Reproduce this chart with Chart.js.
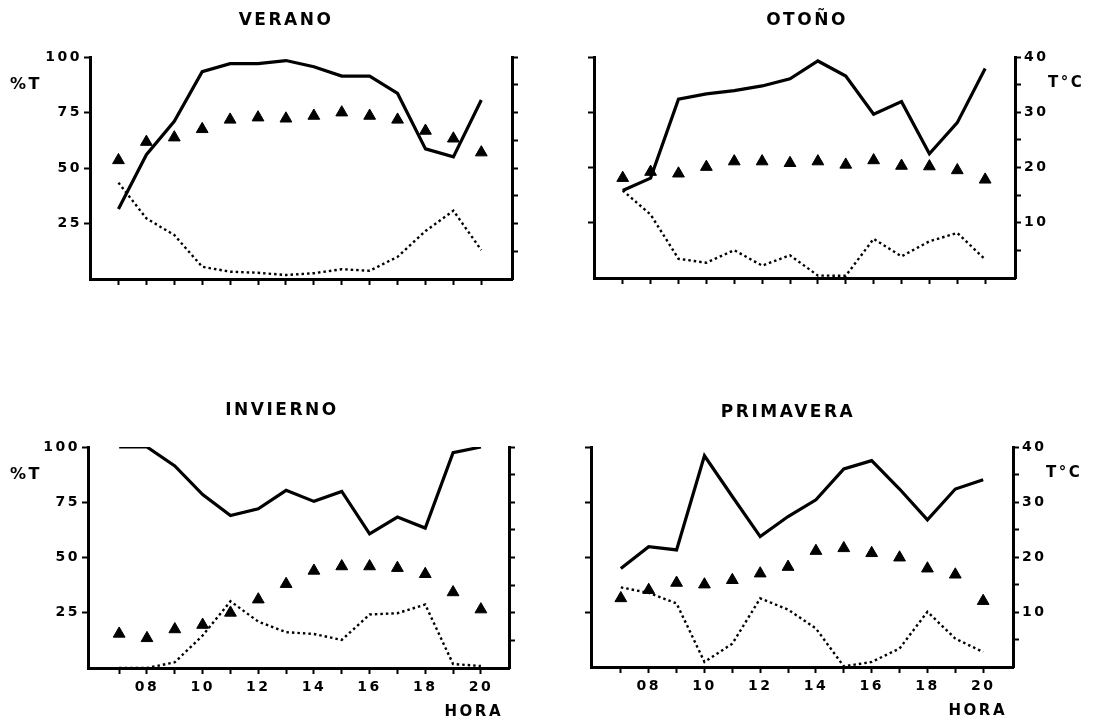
<!DOCTYPE html>
<html>
<head>
<meta charset="utf-8">
<script src="https://cdn.jsdelivr.net/npm/chart.js@4/dist/chart.umd.min.js"></script>
<style>
  html, body { margin: 0; padding: 0; background: #fff; }
  #wrap { position: relative; width: 1095px; height: 724px; background: #fff; overflow: hidden; }
  #wrap canvas { position: absolute; }
</style>
</head>
<body>
<div id="wrap">
  <canvas id="verano"></canvas>
  <canvas id="otono"></canvas>
  <canvas id="invierno"></canvas>
  <canvas id="primavera"></canvas>
</div>
<script>
// Hours of observation and axis tick labels
const hours = [7, 8, 9, 10, 11, 12, 13, 14, 15, 16, 17, 18, 19, 20];
const hourLabels = ['07', '08', '09', '10', '11', '12', '13', '14', '15', '16', '17', '18', '19', '20'];
const pctTicks = [25, 50, 75, 100];
const tempTicks = [10, 20, 30, 40];
const tempMinorTicks = [5, 10, 15, 20, 25, 30, 35, 40];

// VERANO
const veranoSolid  = [31.5, 56, 71, 93.4, 97, 97, 98.4, 95.6, 91.4, 91.4, 83.6, 58.6, 55, 80.6];
const veranoDotted = [43.4, 27.3, 19.8, 5.5, 3.3, 2.8, 1.8, 2.6, 4.4, 3.7, 10, 21.6, 30.8, 13];
const veranoTemp   = [21.4, 24.7, 25.5, 27.0, 28.7, 29.1, 28.9, 29.4, 30.0, 29.4, 28.7, 26.7, 25.3, 22.8];

// OTOÑO
const otonoSolid  = [39.6, 45.2, 80.9, 83.3, 84.8, 86.9, 90.1, 98.2, 91.4, 74.1, 79.8, 56.2, 70.3, 94.8];
const otonoDotted = [39.6, 28.7, 8.7, 6.9, 12.6, 5.6, 10.3, 1.1, 1.0, 17.7, 9.8, 16.6, 20.4, 8.4];
const otonoTemp   = [18.1, 19.2, 18.9, 20.1, 21.1, 21.1, 20.8, 21.1, 20.5, 21.3, 20.3, 20.2, 19.5, 17.8];

// INVIERNO
const inviernoSolid  = [100, 100, 91.4, 78.5, 69, 72, 80.4, 75.4, 79.9, 60.7, 68.3, 63.3, 97.4, 100];
const inviernoDotted = [0, 0, 2.6, 14.7, 30.2, 21, 16.2, 15.4, 12.7, 24.2, 24.8, 28.7, 1.8, 0.9];
const inviernoTemp   = [6.2, 5.4, 7.0, 7.8, 10.0, 12.4, 15.2, 17.6, 18.4, 18.4, 18.1, 17.0, 13.7, 10.6];

// PRIMAVERA
const primaveraSolid  = [44.8, 54.7, 53.2, 96.0, 77.5, 59.3, 68.4, 76.0, 90.0, 93.8, 80.9, 66.9, 80.9, 85.1];
const primaveraDotted = [36.2, 33.7, 28.9, 2.3, 10.6, 31.2, 26.1, 17.5, 0.3, 2.3, 8.4, 25.1, 12.9, 6.8];
const primaveraTemp   = [12.5, 14.0, 15.3, 15.0, 15.8, 17.0, 18.2, 21.1, 21.6, 20.7, 19.9, 17.9, 16.8, 12.0];

const FONT_FAMILY = "'DejaVu Sans', 'Liberation Sans', sans-serif";
Chart.defaults.font.family = FONT_FAMILY;
Chart.defaults.font.weight = 'bold';
Chart.defaults.color = '#000';

// Wide lettering for all chart text
const spacing = {
  id: 'spacing',
  beforeDraw(chart) { chart.ctx.letterSpacing = '2.5px'; }
};

// Unit labels: %T beside the left axis, T°C beside the right axis, HORA under the hours
const unitLabels = {
  id: 'unitLabels',
  afterDraw(chart, args, o) {
    const ctx = chart.ctx, a = chart.chartArea;
    ctx.save();
    ctx.fillStyle = '#000';
    ctx.letterSpacing = '2.5px';
    ctx.textBaseline = 'middle';
    if (o.left) {
      ctx.font = 'bold 16px ' + FONT_FAMILY;
      ctx.textAlign = 'left';
      ctx.fillText(o.left, a.left - o.leftGap, chart.scales.y.getPixelForValue(87.5));
    }
    if (o.right) {
      ctx.font = 'bold 15px ' + FONT_FAMILY;
      ctx.textAlign = 'left';
      ctx.fillText(o.right, a.right + 33, chart.scales.y1.getPixelForValue(35.3));
    }
    if (o.bottom) {
      ctx.font = 'bold 15px ' + FONT_FAMILY;
      ctx.textAlign = 'right';
      ctx.fillText(o.bottom, a.right - 6, a.bottom + 44);
    }
    ctx.restore();
  }
};

function pts(values) {
  return hours.map((h, i) => ({ x: h, y: values[i] }));
}

function axisLook() {
  return {
    border: { display: true, color: '#000', width: 3 },
    grid: {
      display: true, drawOnChartArea: false, drawTicks: true,
      tickLength: 6, tickWidth: 2, tickColor: '#000', color: '#000'
    }
  };
}

// Places the canvas so the plot frame lands at (areaL..areaR, areaT..areaB)
// and the title is centred on titleX; extL/extR are the outermost text edges.
function panel(id, title, solid, dotted, temp, g) {
  const half = Math.max(g.titleX - g.extL, g.extR - g.titleX);
  const W = Math.round(2 * half);
  const x0 = Math.round(g.titleX - W / 2);
  const leftW = g.areaL - x0;
  const rightW = x0 + W - g.areaR;
  const H = g.canvasH;
  const bottomH = g.canvasTop + H - g.areaB;
  const titleH = g.areaT - g.canvasTop;

  const cv = document.getElementById(id);
  cv.width = W; cv.height = H;
  cv.style.left = x0 + 'px';
  cv.style.top = g.canvasTop + 'px';

  return new Chart(cv, {
    type: 'line',
    data: {
      datasets: [
        {
          data: pts(solid), yAxisID: 'y',
          borderColor: '#000', borderWidth: 3.2, pointRadius: 0, tension: 0, fill: false
        },
        {
          data: pts(dotted), yAxisID: 'y',
          borderColor: '#000', borderWidth: 2.4, borderDash: [2.5, 3],
          pointRadius: 0, tension: 0, fill: false
        },
        {
          data: pts(temp), yAxisID: 'y1', showLine: false,
          pointStyle: 'triangle', pointRadius: 6.8, pointHoverRadius: 6.8,
          backgroundColor: '#000', borderColor: '#000', borderWidth: 1
        }
      ]
    },
    options: {
      responsive: false,
      animation: false,
      events: [],
      layout: { padding: 0 },
      plugins: {
        legend: { display: false },
        tooltip: { enabled: false },
        title: {
          display: true, text: title, color: '#000',
          font: { size: 17, weight: 'bold' },
          padding: { top: g.titleTop, bottom: titleH - g.titleTop - 20.4 }
        },
        unitLabels: {
          left: g.showLeft ? '%T' : '', leftGap: g.areaL - 10,
          right: g.showRight ? 'T°C' : '',
          bottom: g.showHours ? 'HORA' : ''
        }
      },
      scales: {
        x: Object.assign(axisLook(), {
          type: 'linear', min: g.xMin, max: g.xMax,
          afterBuildTicks: s => { s.ticks = hours.map(v => ({ value: v })); },
          afterFit: s => { s.height = bottomH; },
          ticks: {
            autoSkip: false, maxRotation: 0, padding: 5,
            font: { size: 14, weight: 'bold' },
            callback: v => (g.showHours && v % 2 === 0) ? hourLabels[hours.indexOf(v)] : ''
          }
        }),
        y: Object.assign(axisLook(), {
          position: 'left', min: 0, max: 100,
          afterBuildTicks: s => { s.ticks = pctTicks.map(v => ({ value: v })); },
          afterFit: s => { s.width = leftW; },
          ticks: {
            autoSkip: false, padding: 2,
            font: { size: 14, weight: 'bold' },
            callback: v => g.showLeft ? String(v) : ''
          }
        }),
        y1: Object.assign(axisLook(), {
          position: 'right', min: 0, max: 40,
          afterBuildTicks: s => { s.ticks = tempMinorTicks.map(v => ({ value: v })); },
          afterFit: s => { s.width = rightW; },
          ticks: {
            autoSkip: false, padding: 3,
            font: { size: 14, weight: 'bold' },
            callback: v => (g.showRight && tempTicks.includes(v)) ? String(v) : ''
          }
        })
      }
    },
    plugins: [spacing, unitLabels]
  });
}

panel('verano', 'VERANO', veranoSolid, veranoDotted, veranoTemp, {
  areaL: 90, areaR: 512, areaT: 57, areaB: 279, titleX: 286, titleTop: 10,
  canvasTop: 0, canvasH: 340, extL: 0, extR: 530,
  xMin: 5.98, xMax: 21.1, showLeft: true, showRight: false, showHours: false
});
panel('otono', 'OTOÑO', otonoSolid, otonoDotted, otonoTemp, {
  areaL: 594, areaR: 1015, areaT: 57, areaB: 278, titleX: 807, titleTop: 10,
  canvasTop: 0, canvasH: 340, extL: 580, extR: 1095,
  xMin: 5.97, xMax: 21.07, showLeft: false, showRight: true, showHours: false
});
panel('invierno', 'INVIERNO', inviernoSolid, inviernoDotted, inviernoTemp, {
  areaL: 88, areaR: 509, areaT: 447, areaB: 668, titleX: 282, titleTop: 10,
  canvasTop: 390, canvasH: 334, extL: 0, extR: 527,
  xMin: 5.88, xMax: 21.01, showLeft: true, showRight: false, showHours: true
});
panel('primavera', 'PRIMAVERA', primaveraSolid, primaveraDotted, primaveraTemp, {
  areaL: 591, areaR: 1013, areaT: 447, areaB: 667, titleX: 788, titleTop: 12,
  canvasTop: 390, canvasH: 334, extL: 577, extR: 1095,
  xMin: 5.93, xMax: 21.07, showLeft: false, showRight: true, showHours: true
});
</script>
</body>
</html>
